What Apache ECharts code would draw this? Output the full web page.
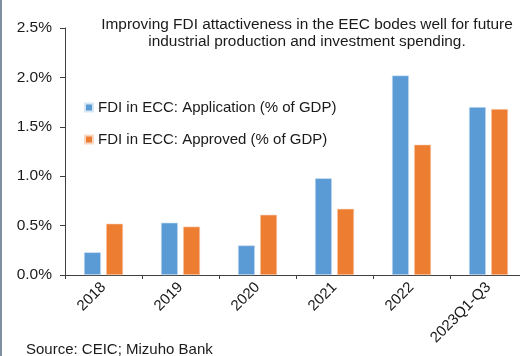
<!DOCTYPE html>
<html><head><meta charset="utf-8">
<script src="https://cdn.jsdelivr.net/npm/echarts@6/dist/echarts.min.js"></script>
<style>html,body{margin:0;padding:0;background:#fff}#c{width:520px;height:356px}</style>
</head><body><div id="c"></div>
<script>
const categories = ['2018','2019','2020','2021','2022','2023Q1-Q3'];
const application = [0.23, 0.53, 0.30, 0.98, 2.02, 1.70];
const approved = [0.52, 0.49, 0.61, 0.67, 1.32, 1.68];
const yTicks = [0, 0.5, 1.0, 1.5, 2.0, 2.5];
const seriesNames = ['FDI in ECC: Application (% of GDP)', 'FDI in ECC: Approved (% of GDP)'];
const titleText = 'Improving FDI attactiveness in the EEC bodes well for future\nindustrial production and investment spending.';
const sourceText = 'Source: CEIC; Mizuho Bank';

const font = 'Liberation Sans, Arial, sans-serif';
const chart = echarts.init(document.getElementById('c'), null, {renderer: 'canvas'});
chart.setOption({
  animation: false,
  textStyle: {fontFamily: font},
  title: {
    text: titleText, left: 302, top: 11, textAlign: 'center',
    textStyle: {fontSize: 15.4, fontWeight: 'normal', color: '#1a1a1a', lineHeight: 17, fontFamily: font}
  },
  legend: {
    orient: 'vertical', left: 79, top: 95, itemGap: 17,
    itemWidth: 8, itemHeight: 8, icon: 'rect',
    textStyle: {fontSize: 15, color: '#1a1a1a', fontFamily: font},
    data: seriesNames
  },
  grid: {left: 65, top: 28, width: 462, height: 247, outerBoundsMode: 'none', containLabel: false},
  xAxis: {
    type: 'category', data: categories,
    axisLine: {lineStyle: {color: '#404040', width: 1}},
    axisTick: {show: true, length: 4, lineStyle: {color: '#404040'}},
    axisLabel: {rotate: 45, fontSize: 15, color: '#1a1a1a', margin: 10, interval: 0, fontFamily: font}
  },
  yAxis: {
    type: 'value', min: yTicks[0], max: yTicks[yTicks.length - 1], interval: 0.5,
    axisLine: {show: true, lineStyle: {color: '#404040', width: 1}},
    axisTick: {show: true, length: 5, lineStyle: {color: '#404040'}},
    splitLine: {show: false},
    axisLabel: {fontSize: 15.5, color: '#1a1a1a', margin: 13, formatter: v => v.toFixed(1) + '%', fontFamily: font}
  },
  series: [
    {name: seriesNames[0], type: 'bar', data: application, barWidth: 17, barGap: '30%',
     itemStyle: {color: '#5b9bd5', borderColor: '#d6e6f5', borderWidth: 0.6}},
    {name: seriesNames[1], type: 'bar', data: approved, barWidth: 17,
     itemStyle: {color: '#ed7d31', borderColor: '#f8d8c2', borderWidth: 0.6}}
  ],
  graphic: [
    {type: 'line', shape: {x1: 1, y1: 0, x2: 1, y2: 356}, style: {stroke: '#7f8fa0', lineWidth: 2}},
    {type: 'text', left: 26, top: 342, style: {text: sourceText, fontSize: 15, fill: '#1a1a1a', fontFamily: font}}
  ]
});
</script></body></html>
